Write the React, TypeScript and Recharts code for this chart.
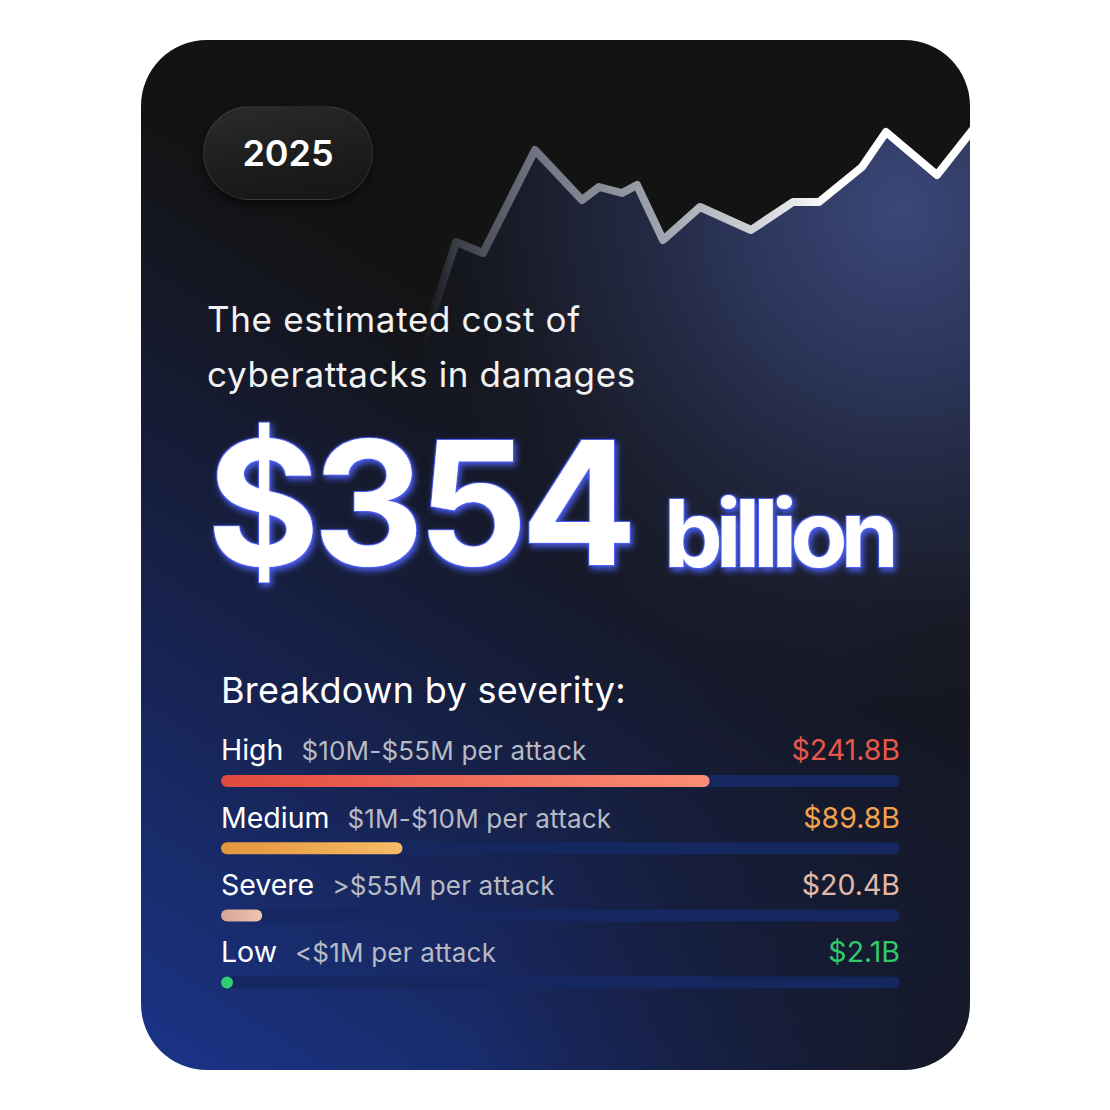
import React from 'react';
import { AreaChart, Area, XAxis, YAxis, BarChart, Bar, Cell, LabelList } from 'recharts';

// ---- data ----
const trendX = [0.2, 3.6, 6.3, 11.5, 16.2, 17.9, 20.2, 21.7, 24.3, 28.0, 33.1, 37.3, 39.9, 44.2, 46.6, 51.7, 55.8];
const trendY = [355, 458, 447, 550, 500, 513, 507, 515, 460, 493, 470, 498, 498, 533, 568, 525, 577];

const severityNames = ['High', 'Medium', 'Severe', 'Low'];
const severityRanges = ['$10M-$55M per attack', '$1M-$10M per attack', '>$55M per attack', '<$1M per attack'];
const severityValues = [241.8, 89.8, 20.4, 2.1];
const severityColors = ['#e8584a', '#f0a24c', '#e2b8a9', '#2fca6c'];
const severityGradients = [
  ['#df4a3f', '#fd8d76'],
  ['#e3953d', '#f8bb66'],
  ['#d6a393', '#edc5b6'],
  ['#2ecc6f', '#34d07a'],
];

const trendData = trendX.map((x, i) => ({ x, y: trendY[i] }));
const barData = severityNames.map((name, i) => ({ name, value: severityValues[i] }));

const FONT = 'Inter, "Noto Sans", sans-serif';
const BAR_W = 829;
const BAR_MARGIN = { top: 60, right: 70, bottom: 10, left: 80 };

const RowLabel = (props: any) => {
  const { x, y, index } = props;
  const right = BAR_W - BAR_MARGIN.right;
  return (
    <g>
      <text x={x} y={y - 14.5} fontFamily={FONT}>
        <tspan fill="#ffffff" fontSize={28.5}>{severityNames[index]}</tspan>
        <tspan dx={18} fill="#b7bac4" fontSize={26} letterSpacing={0.2}>{severityRanges[index]}</tspan>
      </text>
      <text x={right} y={y - 14.5} textAnchor="end" fontFamily={FONT} fontSize={28.5} fill={severityColors[index]}>
        {`$${severityValues[index]}B`}
      </text>
    </g>
  );
};

export default function App() {
  return (
    <div style={{ position: 'absolute', left: 0, top: 0, width: 1110, height: 1110, background: '#ffffff', overflow: 'hidden' }}>
      {/* card */}
      <div
        style={{
          position: 'absolute', left: 141, top: 40, width: 829, height: 1030, borderRadius: 66, overflow: 'hidden',
          background:
            'radial-gradient(ellipse 60% 45% at 100% 100%, rgba(21,24,38,0.95), rgba(21,24,38,0) 100%), linear-gradient(212deg, #131313 0%, #131313 38%, #161b33 56%, #172558 75%, #1a3488 100%)',
        }}
      >
        <div style={{ position: 'absolute', left: 279, top: 60 }}>
          <AreaChart width={560} height={600} data={trendData} margin={{ top: 0, right: 0, bottom: 0, left: 0 }}>
            <defs>
              <linearGradient id="lineGrad" x1="0" y1="0" x2="1" y2="0">
                <stop offset="0" stopColor="#2a2c33" stopOpacity={0} />
                <stop offset="0.06" stopColor="#3a3d46" stopOpacity={1} />
                <stop offset="0.2" stopColor="#6f7380" />
                <stop offset="0.43" stopColor="#a0a4ae" />
                <stop offset="0.62" stopColor="#d6d8dd" />
                <stop offset="0.74" stopColor="#ffffff" />
                <stop offset="1" stopColor="#ffffff" />
              </linearGradient>
              <radialGradient id="areaGrad" cx="0.86" cy="0.15" r="1">
                <stop offset="0" stopColor="#3a4778" stopOpacity={1} />
                <stop offset="0.3" stopColor="#2d365c" stopOpacity={0.95} />
                <stop offset="0.6" stopColor="#20263e" stopOpacity={0.75} />
                <stop offset="0.85" stopColor="#181c2c" stopOpacity={0.3} />
                <stop offset="1" stopColor="#161a2a" stopOpacity={0} />
              </radialGradient>
            </defs>
            <XAxis type="number" dataKey="x" domain={[0, 56]} hide />
            <YAxis type="number" domain={[0, 600]} hide />
            <Area
              type="linear"
              dataKey="y"
              stroke="url(#lineGrad)"
              strokeWidth={8}
              strokeLinejoin="round"
              strokeLinecap="round"
              fill="url(#areaGrad)"
              fillOpacity={1}
              isAnimationActive={false}
              dot={false}
              activeDot={false}
            />
          </AreaChart>
        </div>
      </div>

      {/* badge */}
      <div
        style={{
          position: 'absolute', left: 203, top: 106, width: 170, height: 94, borderRadius: 47, boxSizing: 'border-box',
          background: 'linear-gradient(170deg, #2b2b2b 0%, #1d1d1d 55%, #151515 100%)',
          border: '1px solid rgba(255,255,255,0.09)',
          boxShadow: '0 4px 10px rgba(0,0,0,0.6)',
          display: 'flex', alignItems: 'center', justifyContent: 'center',
          color: '#ffffff', fontFamily: FONT, fontWeight: 600, fontSize: 36,
        }}
      >
        2025
      </div>

      {/* headline texts */}
      <svg width={1110} height={1110} style={{ position: 'absolute', left: 0, top: 0, pointerEvents: 'none' }}>
        <defs>
          <filter id="glow" x="-10%" y="-20%" width="120%" height="140%">
            <feFlood floodColor="#4f63ff" floodOpacity="0.9" result="c" />
            <feComposite in="c" in2="SourceAlpha" operator="in" result="shape" />
            <feMorphology in="shape" operator="dilate" radius="0.8" result="d" />
            <feGaussianBlur in="d" stdDeviation="3" result="b" />
            <feOffset in="b" dx="2" dy="3" result="o" />
            <feMerge>
              <feMergeNode in="o" />
              <feMergeNode in="d" />
              <feMergeNode in="SourceGraphic" />
            </feMerge>
          </filter>
        </defs>
        <text x={207} y={332} fontFamily={FONT} fontSize={35} fill="#f2f2f2" letterSpacing={0.65}>The estimated cost of</text>
        <text x={207} y={387} fontFamily={FONT} fontSize={35} fill="#f2f2f2" letterSpacing={0.65}>cyberattacks in damages</text>
        <g filter="url(#glow)">
          <text x={207} y={565} fontFamily={FONT} fontWeight={700} fontSize={172} fill="#ffffff" letterSpacing={-6.5}>$354</text>
          <text x={664} y={567} fontFamily={FONT} fontWeight={700} fontSize={93} fill="#ffffff" letterSpacing={-6.6}>billion</text>
        </g>
        <text x={221} y={703} fontFamily={FONT} fontSize={36} fill="#ffffff" letterSpacing={0.3}>Breakdown by severity:</text>
      </svg>

      {/* breakdown bars */}
      <div style={{ position: 'absolute', left: 141, top: 687.4 }}>
        <BarChart
          width={BAR_W}
          height={BAR_MARGIN.top + 268.8 + BAR_MARGIN.bottom}
          data={barData}
          layout="vertical"
          margin={BAR_MARGIN}
          barSize={12}
        >
          <defs>
            {severityGradients.map((g, i) => (
              <linearGradient key={i} id={`sev${i}`} x1="0" y1="0" x2="1" y2="0">
                <stop offset="0" stopColor={g[0]} />
                <stop offset="1" stopColor={g[1]} />
              </linearGradient>
            ))}
          </defs>
          <XAxis type="number" domain={[0, 336]} hide />
          <YAxis type="category" dataKey="name" hide />
          <Bar
            dataKey="value"
            radius={6}
            minPointSize={12}
            background={{ fill: '#15275f', radius: 6 } as any}
            isAnimationActive={false}
          >
            {barData.map((d, i) => (
              <Cell key={d.name} fill={`url(#sev${i})`} />
            ))}
            <LabelList dataKey="value" content={RowLabel} />
          </Bar>
        </BarChart>
      </div>
    </div>
  );
}
